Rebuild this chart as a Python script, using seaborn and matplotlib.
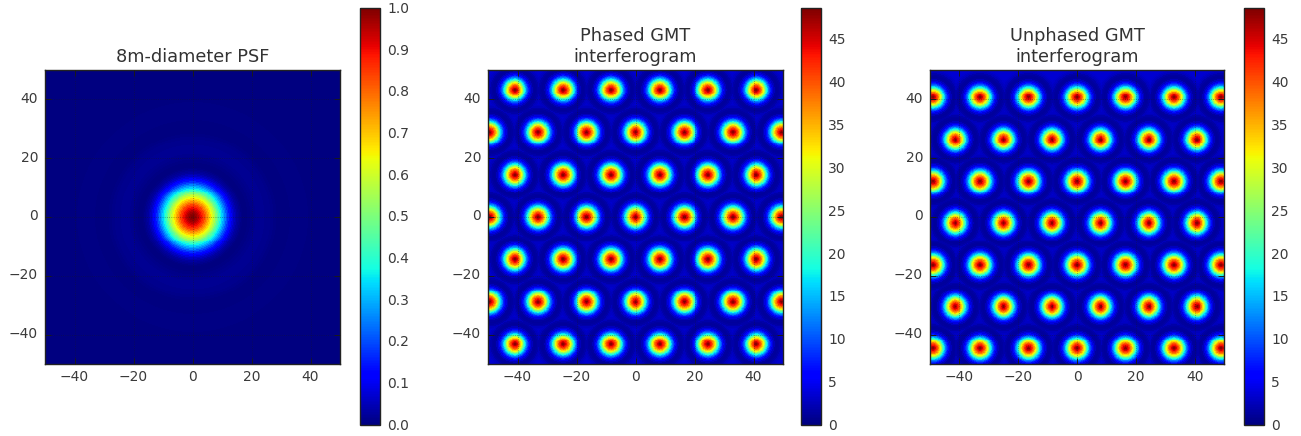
import numpy as np
import seaborn as sns
import matplotlib as mpl
mpl.use('Agg')
import matplotlib.pyplot as plt
from matplotlib.transforms import ScaledTranslation

sns.set_theme(style="white", font="DejaVu Sans")

# radial profile of the PSF
psf_r = [0, .5, 1, 1.5, 2, 2.5, 3, 3.5, 4, 4.5, 5, 5.5, 6, 6.5, 7, 7.5, 8, 8.5, 9, 9.5,
         10, 10.5, 11, 11.5, 12, 12.5, 13, 13.5, 14, 14.5, 15, 15.5, 16, 16.5, 17,
         18, 19, 20, 21, 22, 23, 24, 25, 26, 27, 28, 29, 30, 32, 34, 36, 38, 40, 44, 50, 75]
psf_v = [1.0, .995, .985, .97, .95, .925, .90, .87, .84, .80, .76, .72, .68, .64, .60, .56, .51, .46, .42, .37,
         .33, .29, .25, .21, .17, .14, .11, .085, .06, .045, .03, .02, .012, .006, .002,
         0, .004, .009, .013, .016, .018, .017, .015, .012, .008, .005, .002, 0, .002, .004, .005, .004, .002, 0, .002, 0]

# profile of one interferogram spot against distance from the spot centre
spot_r = [0, .25, .5, .75, 1, 1.25, 1.5, 1.75, 2, 2.25, 2.5, 2.75, 3, 3.25, 3.5, 3.75, 4, 4.25, 4.5, 4.75,
          5, 5.5, 6, 6.5, 7, 7.5, 8, 8.5, 9, 9.5, 10, 11]
spot_v = [48.6, 48, 46.5, 45, 43.5, 42, 40, 38, 36, 33.5, 31, 28, 25, 22, 19, 16.5, 14, 12, 10, 8,
          6.5, 4, 2.5, 1.5, 1.2, 1.4, 1.9, 2.5, 3, 3.3, 3.5, 3.5]

# spot rows of the phased interferogram
phased_y = [43.3, 28.9, 14.4, 0, -14.4, -28.9, -43.3]
phased_x_a = [-41, -24.6, -8.3, 8.3, 24.6, 41]
phased_x_b = [-49.5, -33, -16.5, 0, 16.5, 33, 49.5]

# spot rows of the unphased interferogram
unphased_y = [40.7, 26.4, 12.2, -2, -16.3, -30.5, -44.7]
unphased_x_a = [-49, -33, -16.5, 0, 16.5, 33, 49]
unphased_x_b = [-41.4, -25, -8.5, 8, 24.4, 40.7]

ticks = [-40, -20, 0, 20, 40]
cbar_ticks_psf = [0, .1, .2, .3, .4, .5, .6, .7, .8, .9, 1.0]
cbar_ticks_gmt = [0, 5, 10, 15, 20, 25, 30, 35, 40, 45]

# 3 cells per data unit, about one cell per screen pixel
cells = np.arange(-50 + 1 / 6, 50, 1 / 3)
gx, gy = np.meshgrid(cells, cells[::-1])


def lookup(dist, radii, values):
    radii = np.array(radii)
    idx = np.abs(dist[..., None] - radii).argmin(axis=-1)
    return np.array(values)[idx]


def spot_image(rows, xa, xb):
    sx, sy = [], []
    for i, y in enumerate(rows):
        for x in (xa if i % 2 == 0 else xb):
            sx.append(x)
            sy.append(y)
    d = np.hypot(gx[..., None] - np.array(sx), gy[..., None] - np.array(sy)).min(axis=-1)
    return lookup(d, spot_r, spot_v)


W, H = 1301, 436


def box(x0, y0, x1, y1):
    return [x0 / W, 1 - y1 / H, (x1 - x0) / W, (y1 - y0) / H]


def panel(fig, img, title, ax_box, cb_box, vmax, cb_ticks, cb_fmt):
    ax = fig.add_axes(box(*ax_box))
    cax = fig.add_axes(box(*cb_box))
    sns.heatmap(img, ax=ax, cbar_ax=cax, cmap='jet', vmin=0, vmax=vmax, xticklabels=False, yticklabels=False)
    ax.set_xticks([(t + 50) * 3 for t in ticks])
    ax.set_xticklabels([str(t).replace('-', '\u2212') for t in ticks])
    ax.set_yticks([(50 - t) * 3 for t in ticks])
    ax.set_yticklabels([str(t).replace('-', '\u2212') for t in ticks], rotation=0)
    ax.tick_params(direction='in', length=4, width=0.7, color='k', top=True, right=True,
                   bottom=True, left=True, labelsize=10, labelcolor='#3a3a3a', pad=5)
    ax.tick_params(axis='x', pad=4)
    ax.grid(True, color='k', linestyle=':', linewidth=0.6, alpha=0.45)
    ax.set_axisbelow(False)
    for s in ax.spines.values():
        s.set_visible(True)
        s.set_color('#222222')
        s.set_linewidth(1)
    ax.set_title(title, fontsize=12.8, color='#333333', pad=6, linespacing=1.17)

    cb = ax.collections[0].colorbar
    cb.set_ticks(cb_ticks)
    cb.set_ticklabels([cb_fmt % t for t in cb_ticks])
    cax.tick_params(direction='in', length=4, width=0.7, color='k', right=True, left=False,
                    labelsize=10, labelcolor='#3a3a3a', pad=5)
    cb.outline.set_visible(True)
    cb.outline.set_linewidth(1)
    cb.outline.set_edgecolor('#222222')

    # labels sit a little higher than the tick in the old style
    up = ScaledTranslation(0, 1.5 / 72, fig.dpi_scale_trans)
    for lab in ax.get_yticklabels():
        lab.set_transform(lab.get_transform() + up)
    up_cb = ScaledTranslation(0, 0.5 / 72, fig.dpi_scale_trans)
    for lab in cax.get_yticklabels():
        lab.set_transform(lab.get_transform() + up_cb)


psf = lookup(np.hypot(gx, gy), psf_r, psf_v)
phased = spot_image(phased_y, phased_x_a, phased_x_b)
unphased = spot_image(unphased_y, unphased_x_a, unphased_x_b)

fig = plt.figure(figsize=(W / 100, H / 100), dpi=100)
panel(fig, psf, '8m-diameter PSF', (45, 70, 340, 364), (360, 8, 380, 425), 1.0, cbar_ticks_psf, '%.1f')
panel(fig, phased, 'Phased GMT\ninterferogram', (488, 70, 783, 364), (801, 8, 821, 425), 48.7, cbar_ticks_gmt, '%d')
panel(fig, unphased, 'Unphased GMT\ninterferogram', (930, 70, 1224, 364), (1244, 8, 1264, 425), 48.7, cbar_ticks_gmt, '%d')

fig.savefig('out.png', dpi=100)
